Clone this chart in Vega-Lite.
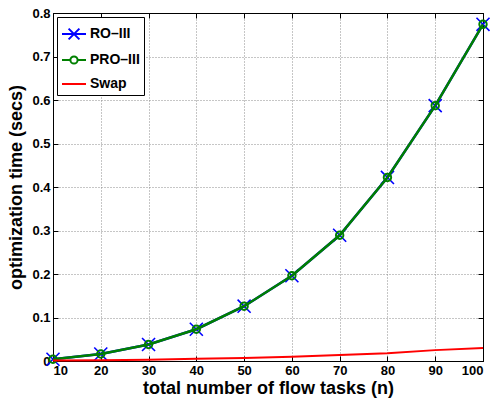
{
  "$schema": "https://vega.github.io/schema/vega-lite/v6.json",
  "width": 430,
  "height": 348,
  "autosize": {"type": "none"},
  "padding": {"left": 53, "top": 13, "right": 9, "bottom": 40},
  "background": "white",
  "config": {
    "font": "Liberation Sans",
    "view": {"stroke": "black", "strokeWidth": 1},
    "axis": {
      "labelFont": "Liberation Sans",
      "labelFontWeight": "bold",
      "labelFontSize": 13,
      "labelColor": "black",
      "titleFont": "Liberation Sans",
      "titleFontWeight": "bold",
      "titleFontSize": 18,
      "titleColor": "black",
      "domainColor": "black",
      "tickColor": "black",
      "tickSize": -5,
      "labelPadding": 8,
      "gridColor": "#8c8c8c",
      "gridOpacity": 1,
      "gridDash": [1, 2],
      "gridWidth": 1
    },
    "legend": {
      "labelFont": "Liberation Sans",
      "labelFontWeight": "bold",
      "labelFontSize": 14,
      "labelColor": "black"
    }
  },
  "data": {
    "values": [
      {"n": 10, "series": "RO–III", "t": 0.004},
      {"n": 20, "series": "RO–III", "t": 0.016},
      {"n": 30, "series": "RO–III", "t": 0.038},
      {"n": 40, "series": "RO–III", "t": 0.073},
      {"n": 50, "series": "RO–III", "t": 0.126},
      {"n": 60, "series": "RO–III", "t": 0.196},
      {"n": 70, "series": "RO–III", "t": 0.289},
      {"n": 80, "series": "RO–III", "t": 0.422},
      {"n": 90, "series": "RO–III", "t": 0.587},
      {"n": 100, "series": "RO–III", "t": 0.774},
      {"n": 10, "series": "PRO–III", "t": 0.004},
      {"n": 20, "series": "PRO–III", "t": 0.016},
      {"n": 30, "series": "PRO–III", "t": 0.038},
      {"n": 40, "series": "PRO–III", "t": 0.073},
      {"n": 50, "series": "PRO–III", "t": 0.126},
      {"n": 60, "series": "PRO–III", "t": 0.196},
      {"n": 70, "series": "PRO–III", "t": 0.289},
      {"n": 80, "series": "PRO–III", "t": 0.422},
      {"n": 90, "series": "PRO–III", "t": 0.587},
      {"n": 100, "series": "PRO–III", "t": 0.774},
      {"n": 10, "series": "Swap", "t": 0.001},
      {"n": 20, "series": "Swap", "t": 0.002},
      {"n": 30, "series": "Swap", "t": 0.003},
      {"n": 40, "series": "Swap", "t": 0.005},
      {"n": 50, "series": "Swap", "t": 0.007},
      {"n": 60, "series": "Swap", "t": 0.010},
      {"n": 70, "series": "Swap", "t": 0.014},
      {"n": 80, "series": "Swap", "t": 0.018},
      {"n": 90, "series": "Swap", "t": 0.025},
      {"n": 100, "series": "Swap", "t": 0.030}
    ]
  },
  "resolve": {"axis": {"x": "independent", "y": "independent"}},
  "layer": [
    {
      "transform": [{"filter": "datum.series === 'RO–III'"}],
      "mark": {"type": "line", "strokeWidth": 2.5, "clip": true},
      "encoding": {
        "x": {"field": "n", "type": "quantitative", "scale": {"domain": [10, 100], "nice": false},
          "axis": {"title": "total number of flow tasks (n)", "values": [10,20,30,40,50,60,70,80,90,100], "grid": true, "titlePadding": 2}},
        "y": {"field": "t", "type": "quantitative", "scale": {"domain": [0, 0.8], "nice": false},
          "axis": {"title": "optimization time (secs)", "values": [0,0.1,0.2,0.3,0.4,0.5,0.6,0.7,0.8], "format": "~g", "grid": true, "titlePadding": 6}},
        "color": {"field": "series", "type": "nominal",
          "scale": {"domain": ["RO–III", "PRO–III", "Swap"], "range": ["#0000ff", "#008000", "#ff0000"]},
          "legend": {
            "title": null,
            "orient": "none",
            "legendX": 4,
            "legendY": 4,
            "strokeColor": "black",
            "fillColor": "white",
            "padding": 4,
            "rowPadding": 3,
            "symbolSize": 576,
            "symbolStrokeWidth": 2,
            "symbolOffset": 0,
            "labelOffset": 3,
            "encode": {
              "symbols": {
                "update": {
                  "shape": {"signal": "datum.value === 'RO–III' ? 'M-1,0L1,0M-0.45,-0.45L0.45,0.45M-0.45,0.45L0.45,-0.45' : (datum.value === 'PRO–III' ? 'M-1,0L-0.3,0M0.3,0L1,0M0.3,0A0.3,0.3 0 1,1 -0.3,0A0.3,0.3 0 1,1 0.3,0' : 'M-1,0L1,0')"},
                  "fill": {"value": "transparent"}
                }
              }
            }
          }}
      }
    },
    {
      "transform": [{"filter": "datum.series === 'RO–III'"}],
      "mark": {"type": "point", "shape": "M-1,-1L1,1M-1,1L1,-1", "size": 170, "stroke": "#0000ff", "strokeWidth": 1.6, "filled": false, "opacity": 1, "clip": false},
      "encoding": {
        "x": {"field": "n", "type": "quantitative", "axis": null},
        "y": {"field": "t", "type": "quantitative", "axis": null}
      }
    },
    {
      "transform": [{"filter": "datum.series === 'PRO–III'"}],
      "mark": {"type": "line", "strokeWidth": 2.5},
      "encoding": {
        "x": {"field": "n", "type": "quantitative", "axis": null},
        "y": {"field": "t", "type": "quantitative", "axis": null},
        "color": {"field": "series", "type": "nominal"}
      }
    },
    {
      "transform": [{"filter": "datum.series === 'PRO–III'"}],
      "mark": {"type": "point", "shape": "circle", "size": 55, "stroke": "#008000", "strokeWidth": 2, "filled": false, "opacity": 1, "clip": false},
      "encoding": {
        "x": {"field": "n", "type": "quantitative", "axis": null},
        "y": {"field": "t", "type": "quantitative", "axis": null}
      }
    },
    {
      "transform": [{"filter": "datum.series === 'Swap'"}],
      "mark": {"type": "line", "strokeWidth": 2},
      "encoding": {
        "x": {"field": "n", "type": "quantitative", "axis": null},
        "y": {"field": "t", "type": "quantitative", "axis": null},
        "color": {"field": "series", "type": "nominal"}
      }
    },
    {
      "mark": {"type": "point", "opacity": 0},
      "encoding": {
        "x": {"field": "n", "type": "quantitative",
          "axis": {"orient": "top", "values": [10,20,30,40,50,60,70,80,90,100], "labels": false, "title": null, "grid": false}},
        "y": {"field": "t", "type": "quantitative",
          "axis": {"orient": "right", "values": [0,0.1,0.2,0.3,0.4,0.5,0.6,0.7,0.8], "labels": false, "title": null, "grid": false}}
      }
    }
  ]
}
